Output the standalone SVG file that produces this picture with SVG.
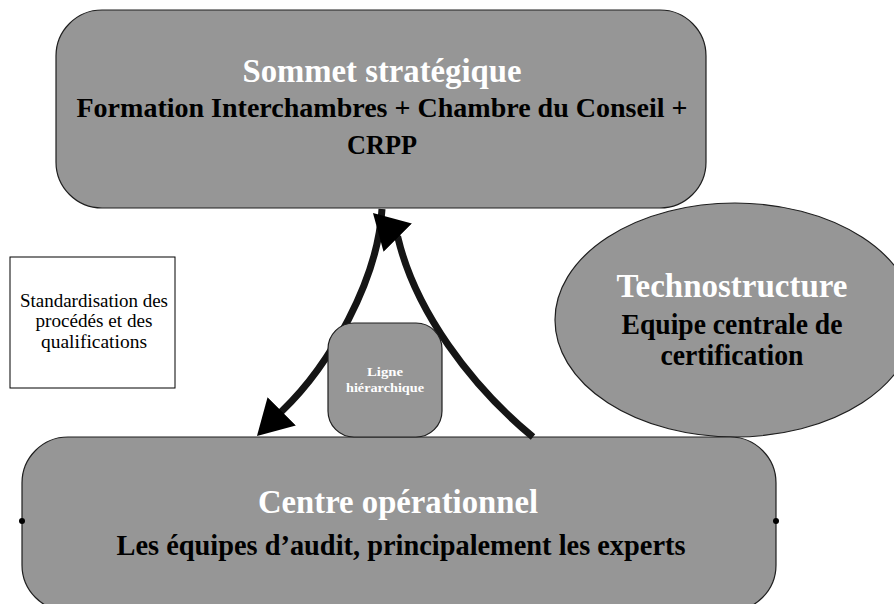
<svg xmlns="http://www.w3.org/2000/svg" width="894" height="604" viewBox="0 0 894 604">
<style>
.node{fill:#969696;stroke:#1e1e1e;stroke-width:1.2}
.t{font-family:'Liberation Serif','Times New Roman',serif;font-weight:bold;text-anchor:middle}
.w{fill:#ffffff}
.b{fill:#000000}
.plain{font-family:'Liberation Serif','Times New Roman',serif;font-size:18px;fill:#000;text-anchor:middle}
.conn{fill:none;stroke:#151515;stroke-width:7;stroke-linecap:butt}
</style>
<defs>
<marker id="arrow" markerUnits="userSpaceOnUse" markerWidth="36" markerHeight="40" viewBox="0 0 36 40" refX="1" refY="20" orient="auto">
<path d="M0,0 L35,20 L0,40 z" fill="#000"/>
</marker>
</defs>
<rect width="894" height="604" fill="#ffffff"/>
<g id="sommet">
<rect class="node" x="56" y="10" width="650" height="198" rx="46" ry="46"/>
<text class="t w" x="382" y="82" font-size="34" textLength="279" lengthAdjust="spacingAndGlyphs">Sommet stratégique</text>
<text class="t b" x="382" y="117" font-size="28" textLength="611" lengthAdjust="spacingAndGlyphs">Formation Interchambres + Chambre du Conseil +</text>
<text class="t b" x="382" y="154" font-size="28" textLength="70" lengthAdjust="spacingAndGlyphs">CRPP</text>
</g>
<g id="technostructure">
<ellipse class="node" cx="735" cy="320" rx="180" ry="117"/>
<text class="t w" x="732" y="297" font-size="34" textLength="231" lengthAdjust="spacingAndGlyphs">Technostructure</text>
<text class="t b" x="732" y="334" font-size="29" textLength="221" lengthAdjust="spacingAndGlyphs">Equipe centrale de</text>
<text class="t b" x="732" y="365" font-size="29" textLength="143" lengthAdjust="spacingAndGlyphs">certification</text>
</g>
<g id="centre">
<rect class="node" x="22" y="437" width="754" height="174" rx="46" ry="46"/>
<circle cx="22" cy="521" r="3" fill="#000"/>
<circle cx="776" cy="521" r="3" fill="#000"/>
<text class="t w" x="398" y="513" font-size="34" textLength="280" lengthAdjust="spacingAndGlyphs">Centre opérationnel</text>
<text class="t b" x="401" y="555" font-size="29" textLength="569" lengthAdjust="spacingAndGlyphs">Les équipes d’audit, principalement les experts</text>
</g>
<g id="connectors">
<path class="conn" d="M382,209 C378,280 330,365 282,411 l-1,1" marker-end="url(#arrow)"/>
<path class="conn" d="M533,437 C470,385 415,310 398,238 l-1,-1" marker-end="url(#arrow)"/>
</g>
<g id="ligne">
<rect class="node" x="328" y="323" width="114" height="114" rx="26" ry="26"/>
<text class="t w" x="385" y="376" font-size="13" textLength="36" lengthAdjust="spacingAndGlyphs">Ligne</text>
<text class="t w" x="385" y="392" font-size="13" textLength="78" lengthAdjust="spacingAndGlyphs">hiérarchique</text>
</g>
<g id="standardisation">
<rect x="10" y="257" width="165" height="131" fill="#ffffff" stroke="#000" stroke-width="1"/>
<text class="plain" x="94" y="307" textLength="148" lengthAdjust="spacingAndGlyphs">Standardisation des</text>
<text class="plain" x="94" y="327" textLength="117" lengthAdjust="spacingAndGlyphs">procédés et des</text>
<text class="plain" x="94" y="348" textLength="106" lengthAdjust="spacingAndGlyphs">qualifications</text>
</g>
</svg>
